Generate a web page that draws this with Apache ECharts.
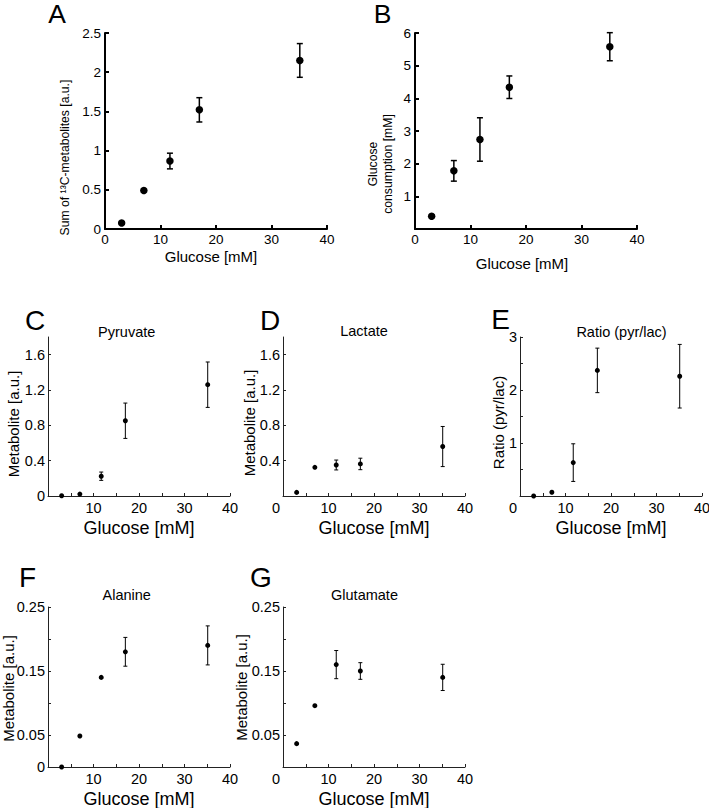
<!DOCTYPE html>
<html>
<head>
<meta charset="utf-8">
<script src="https://cdn.jsdelivr.net/npm/echarts@6/dist/echarts.min.js"></script>
<style>
  html, body { margin: 0; padding: 0; background: #fff; }
  #main { width: 709px; height: 808px; }
</style>
</head>
<body>
<div id="main"></div>
<script>
// glucose concentrations (x) shared by all panels
const glucose = [3, 7, 11.7, 17, 35.1];

// A: sum of 13C metabolites
const sumMean = [0.077, 0.49, 0.867, 1.52, 2.15];
const sumErr = [0, 0, 0.1, 0.155, 0.215];
// B: glucose consumption
const consMean = [0.39, 1.78, 2.74, 4.34, 5.58];
const consErr = [0, 0.315, 0.665, 0.345, 0.43];
// C: pyruvate
const pyrMean = [0.003, 0.022, 0.224, 0.852, 1.26];
const pyrErr = [0, 0, 0.047, 0.2, 0.257];
// D: lactate
const lacMean = [0.041, 0.325, 0.351, 0.363, 0.56];
const lacErr = [0, 0, 0.056, 0.065, 0.227];
// E: ratio pyr/lac
const ratioMean = [0, 0.07, 0.63, 2.37, 2.26];
const ratioErr = [0, 0, 0.355, 0.42, 0.6];
// F: alanine
const alaMean = [0, 0.0484, 0.14, 0.18, 0.19];
const alaErr = [0, 0, 0, 0.0225, 0.0305];
// G: glutamate
const gluMean = [0.0365, 0.0958, 0.16, 0.15, 0.14];
const gluErr = [0, 0, 0.022, 0.013, 0.0205];

// ticks / labels
const xTicksAB = [0, 10, 20, 30, 40];
const xTicksCG = [0, 5, 10, 15, 20, 25, 30, 35, 40];
const xLabelsCF = [10, 20, 30, 40];
const xLabelsDEG = [0, 10, 20, 30, 40];
const yTicksA = [0, 0.5, 1, 1.5, 2, 2.5];
const yTicksB = [1, 2, 3, 4, 5, 6];
const yTicksCD = [0.4, 0.8, 1.2, 1.6];
const yLabelsC = [0, 0.4, 0.8, 1.2, 1.6];
const yLabelsD = [0.4, 0.8, 1.2, 1.6];
const yTicksE = [0.5, 1, 1.5, 2, 2.5, 3];
const yLabelsE = [1, 2, 3];
const yTicksFG = [0.05, 0.1, 0.15, 0.2, 0.25];
const yLabelsF = [0, 0.05, 0.15, 0.25];
const yLabelsG = [0.05, 0.15, 0.25];

const FONT = '"Liberation Sans", Arial, Helvetica, sans-serif';

// layout of each panel
const panels = [
  { letter: 'A', lx: 57, ly: 13.5, big: true, grid: { left: 105, top: 33, width: 222, height: 196 },
    mean: sumMean, err: sumErr, yMax: 2.5, xTicks: xTicksAB, xLabels: xTicksAB, yTicks: yTicksA, yLabels: yTicksA,
    yName: 'Sum of ¹³C-metabolites [a.u.]', nx: 65, ny: 157.5, xGap: 20, xShift: 10 },
  { letter: 'B', lx: 382.5, ly: 13.5, big: true, grid: { left: 415, top: 33, width: 222, height: 196 },
    mean: consMean, err: consErr, yMax: 6, xTicks: xTicksAB, xLabels: xTicksAB, yTicks: yTicksB, yLabels: yTicksB,
    yName: 'Glucose\nconsumption [mM]', nx: 380.5, ny: 164, xGap: 26.5, xShift: 8 },
  { letter: 'C', lx: 35, ly: 320, title: 'Pyruvate', tx: 126.7, ty: 331.7, grid: { left: 48, top: 337, width: 182, height: 159 },
    mean: pyrMean, err: pyrErr, yMax: 1.8, xTicks: xTicksCG, xLabels: xLabelsCF, yTicks: yTicksCD, yLabels: yLabelsC,
    yName: 'Metabolite [a.u.]', nx: 13.7, ny: 424, xGap: 22.5, xShift: 0 },
  { letter: 'D', lx: 270, ly: 320, title: 'Lactate', tx: 364, ty: 331, grid: { left: 283, top: 337, width: 182, height: 159 },
    mean: lacMean, err: lacErr, yMax: 1.8, xTicks: xTicksCG, xLabels: xLabelsDEG, yTicks: yTicksCD, yLabels: yLabelsD,
    yName: 'Metabolite [a.u.]', nx: 249, ny: 423, xGap: 22.5, xShift: 0 },
  { letter: 'E', lx: 500.5, ly: 319, title: 'Ratio (pyr/lac)', tx: 621.5, ty: 331.5, grid: { left: 520, top: 337, width: 182, height: 159 },
    mean: ratioMean, err: ratioErr, yMax: 3, xTicks: xTicksCG, xLabels: xLabelsDEG, yTicks: yTicksE, yLabels: yLabelsE,
    yName: 'Ratio (pyr/lac)', nx: 498.3, ny: 422.5, xGap: 22.5, xShift: 0 },
  { letter: 'F', lx: 27.5, ly: 577.5, title: 'Alanine', tx: 126.7, ty: 595, grid: { left: 48, top: 607, width: 182, height: 160 },
    mean: alaMean, err: alaErr, yMax: 0.25, xTicks: xTicksCG, xLabels: xLabelsCF, yTicks: yTicksFG, yLabels: yLabelsF,
    yName: 'Metabolite [a.u.]', nx: 8.5, ny: 688.5, xGap: 22.5, xShift: 0 },
  { letter: 'G', lx: 261, ly: 577.5, title: 'Glutamate', tx: 364.5, ty: 595, grid: { left: 283, top: 607, width: 182, height: 160 },
    mean: gluMean, err: gluErr, yMax: 0.25, xTicks: xTicksCG, xLabels: xLabelsDEG, yTicks: yTicksFG, yLabels: yLabelsG,
    yName: 'Metabolite [a.u.]', nx: 241.5, ny: 687.5, xGap: 22.5, xShift: 0 }
];

// error bar drawn through the axis scales
function errRender(capHalf, lw) {
  return function (params, api) {
    const x = api.value(0);
    const top = api.coord([x, api.value(2)]);
    const bot = api.coord([x, api.value(1)]);
    const style = { stroke: '#000', lineWidth: lw };
    return {
      type: 'group',
      children: [
        { type: 'line', shape: { x1: top[0], y1: top[1], x2: bot[0], y2: bot[1] }, style: style },
        { type: 'line', shape: { x1: top[0] - capHalf, y1: top[1], x2: top[0] + capHalf, y2: top[1] }, style: style },
        { type: 'line', shape: { x1: bot[0] - capHalf, y1: bot[1], x2: bot[0] + capHalf, y2: bot[1] }, style: style }
      ]
    };
  };
}

const grids = [], xAxes = [], yAxes = [], series = [], graphics = [];

panels.forEach(function (p, i) {
  const big = !!p.big;
  const lineW = big ? 2 : 1;
  const tickFs = big ? 13.5 : 14.5;
  const axisCol = big ? '#000' : '#222';

  grids.push(Object.assign({ outerBoundsMode: 'none', containLabel: false }, p.grid));

  xAxes.push({
    type: 'value', gridIndex: i, min: 0, max: 40,
    name: 'Glucose [mM]', nameLocation: 'middle', nameGap: p.xGap,
    nameTextStyle: { fontFamily: FONT, fontSize: big ? 15 : 18, color: '#000', padding: [0, p.xShift, 0, 0] },
    axisLine: { show: true, onZero: false, lineStyle: { color: axisCol, width: lineW } },
    axisTick: { show: true, inside: true, length: big ? 4 : 3, customValues: p.xTicks, lineStyle: { color: axisCol, width: lineW } },
    axisLabel: {
      show: true, customValues: p.xLabels, margin: big ? 3 : 4,
      fontFamily: FONT, fontSize: tickFs, color: '#000',
      formatter: function (v) { return (!big && v === 0) ? '{z|0}' : String(v); },
      rich: { z: { fontFamily: FONT, fontSize: tickFs, color: '#000', padding: [0, 14, 0, 0] } }
    },
    splitLine: { show: false }
  });

  yAxes.push({
    type: 'value', gridIndex: i, min: 0, max: p.yMax,
    axisLine: { show: true, onZero: false, lineStyle: { color: axisCol, width: lineW } },
    axisTick: { show: true, inside: true, length: big ? 4 : 3, customValues: p.yTicks, lineStyle: { color: axisCol, width: lineW } },
    axisLabel: { show: true, customValues: p.yLabels, margin: big ? 4 : 3, fontFamily: FONT, fontSize: tickFs, color: '#000' },
    splitLine: { show: false }
  });

  const pts = [], bars = [];
  glucose.forEach(function (g, j) {
    pts.push([g, p.mean[j]]);
    if (p.err[j] > 0) bars.push([g, p.mean[j] - p.err[j], p.mean[j] + p.err[j]]);
  });

  series.push({
    type: 'custom', xAxisIndex: i, yAxisIndex: i, z: 1, silent: true,
    renderItem: errRender(big ? 3 : 2, big ? 1.5 : 1),
    encode: { x: 0, y: [1, 2] },
    data: bars
  });
  series.push({
    type: 'scatter', xAxisIndex: i, yAxisIndex: i, z: 2, silent: true,
    symbol: 'circle', symbolSize: big ? 7.5 : 5,
    itemStyle: { color: '#000', opacity: 1 },
    data: pts
  });

  // panel letter
  graphics.push({
    type: 'text', x: p.lx, y: p.ly, silent: true,
    style: { text: p.letter, fill: '#000', font: (big ? 26.5 : 28) + 'px ' + FONT, lineHeight: 20, textAlign: 'center', textVerticalAlign: 'middle' }
  });
  // panel title
  if (p.title) {
    graphics.push({
      type: 'text', x: p.tx, y: p.ty, silent: true,
      style: { text: p.title, fill: '#000', font: '14.5px ' + FONT, textAlign: 'center', textVerticalAlign: 'middle' }
    });
  }
  // y axis title, rotated
  graphics.push({
    type: 'text', x: p.nx, y: p.ny, rotation: Math.PI / 2, silent: true,
    style: { text: p.yName, fill: '#000', font: (big ? 12.2 : 15) + 'px ' + FONT, lineHeight: 15, textAlign: 'center', textVerticalAlign: 'middle' }
  });
});

const chart = echarts.init(document.getElementById('main'), null, { renderer: 'svg' });
chart.setOption({
  backgroundColor: '#fff',
  animation: false,
  grid: grids,
  xAxis: xAxes,
  yAxis: yAxes,
  series: series,
  graphic: graphics
});
</script>
</body>
</html>
